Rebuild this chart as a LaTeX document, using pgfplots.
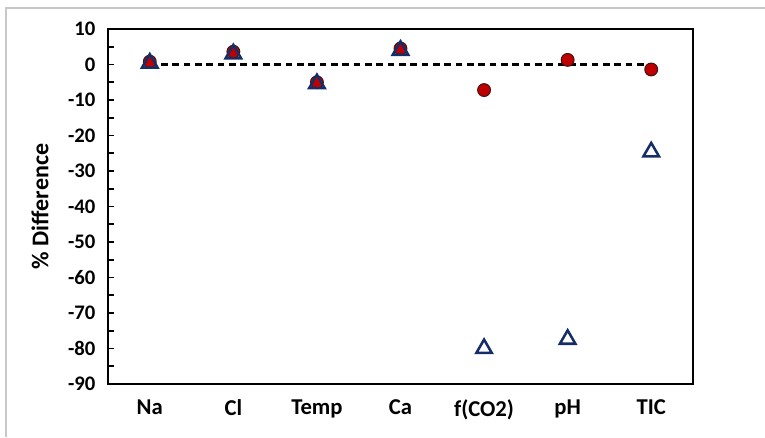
\documentclass[border=0pt]{standalone}
\usepackage{fontspec}
\setmainfont{Carlito}
\usepackage{pgfplots}
\pgfplotsset{compat=1.18}

\definecolor{dotred}{RGB}{192,0,0}
\definecolor{dotedge}{RGB}{70,20,20}
\definecolor{navy}{RGB}{22,46,104}
\definecolor{framegray}{RGB}{200,200,200}

\begin{document}
\begin{tikzpicture}
\useasboundingbox (0,0) rectangle (573.75pt,327.75pt);
\draw[framegray, line width=0.8pt] (4.5pt,0) -- (4.5pt,321.75pt) -- (573.75pt,321.75pt);
\begin{axis}[
  at={(81pt,39.75pt)}, anchor=south west,
  scale only axis, width=438.75pt, height=266.25pt,
  xmin=0, xmax=7, ymin=-90, ymax=10,
  axis line style={line width=2.1pt, black},
  xtick={0.5,1.5,2.5,3.5,4.5,5.5,6.5},
  xticklabels={Na, Cl, Temp, Ca, f(CO2), pH, TIC},
  xtick style={draw=none},
  extra x ticks={1,2,3,4,5,6},
  extra x tick labels={},
  extra x tick style={tick style={draw=black, line width=1.3pt}, major tick length=4.5pt},
  xtick pos=bottom, ytick pos=left,
  tick align=inside,
  ytick distance=10, minor y tick num=1,
  ytick style={line width=1.3pt, black},
  major tick length=4.5pt, minor tick length=4.5pt,
  /pgf/number format/assume math mode=true,
  yticklabel style={font=\bfseries\fontsize{15.5}{18}\selectfont, xshift=-6pt},
  xticklabel style={font=\bfseries\fontsize{17}{20}\selectfont, yshift=-8pt},
  ylabel={\% Difference},
  ylabel style={font=\bfseries\fontsize{18}{21}\selectfont, at={(axis description cs:-0.116,0.5)}, anchor=center},
  clip=false,
]
% zero reference line
\addplot[black, line width=2.1pt, dash pattern=on 5pt off 3.5pt] coordinates {(0.5,0) (6.5,0)};
% first series: filled circles
\addplot[only marks, mark=*, mark size=4.8pt,
  mark options={fill=dotred, draw=dotedge, line width=0.8pt}]
  coordinates {(0.5,0.8) (1.5,3.6) (2.5,-5.0) (3.5,4.5) (4.5,-7.2) (5.5,1.3) (6.5,-1.4)};
% second series: open triangles
\addplot[only marks, mark=triangle, mark size=6.7pt,
  mark options={draw=navy, line width=1.9pt}]
  coordinates {(0.5,0.4) (1.5,3.0) (2.5,-5.4) (3.5,4.0) (4.5,-80.0) (5.5,-77.4) (6.5,-24.6)};
\end{axis}
\end{tikzpicture}
\end{document}
